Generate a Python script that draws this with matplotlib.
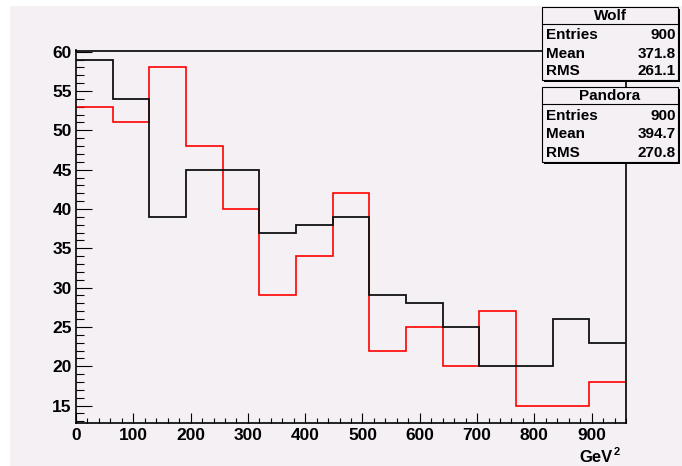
#!/usr/bin/env python3
"""
Wolf vs Pandora invariant-mass^2 distributions, ROOT-style overlay with stat boxes
"""
import numpy as np
import matplotlib
matplotlib.use('Agg')
import matplotlib.pyplot as plt
from matplotlib.patches import Rectangle
from matplotlib.ticker import MultipleLocator

# 15 bins of 64 GeV^2 from 0 to 960
bin_edges = np.arange(0, 961, 64)
wolf_counts = [59, 54, 39, 45, 45, 37, 38, 39, 29, 28, 25, 20, 20, 26, 23]
pandora_counts = [53, 51, 58, 48, 40, 29, 34, 42, 22, 25, 20, 27, 15, 15, 18]

wolf_stats = [('Entries', '900'), ('Mean', '371.8'), ('RMS', '261.1')]
pandora_stats = [('Entries', '900'), ('Mean', '394.7'), ('RMS', '270.8')]

W, H = 682, 466
BG = '#f4f0f4'
FONT = 'Liberation Sans'

fig = plt.figure(figsize=(W/100, H/100), dpi=100, facecolor='white')

def fx(x): return x / W
def fy(y): return 1 - y / H

# canvas fill (white strip on the left and top)
fig.patches.append(Rectangle((fx(10), 0), 1 - fx(10), fy(6), transform=fig.transFigure,
                             facecolor=BG, edgecolor='none', zorder=-5))

ax = fig.add_axes([fx(76), fy(422.5), fx(626) - fx(76), fy(50.5) - fy(422.5)], zorder=1)
ax.set_facecolor(BG)

ax.stairs(pandora_counts, bin_edges, color='#ff0000', lw=1.2, baseline=None, zorder=2)
ax.stairs(wolf_counts, bin_edges, color='#111111', lw=1.3, baseline=None, zorder=3)

ax.set_xlim(0, 960)
ax.set_ylim(12.85, 60.15)

ax.xaxis.set_major_locator(MultipleLocator(100))
ax.xaxis.set_minor_locator(MultipleLocator(20))
ax.yaxis.set_major_locator(MultipleLocator(5))
ax.yaxis.set_minor_locator(MultipleLocator(1))
ax.tick_params(axis='x', which='major', direction='in', length=7.2, width=0.8, pad=4)
ax.tick_params(axis='x', which='minor', direction='in', length=3.6, width=0.8)
ax.tick_params(axis='y', which='major', direction='in', length=11.5, width=0.8, pad=3)
ax.tick_params(axis='y', which='minor', direction='in', length=5.8, width=0.8)
ax.set_yticks([15, 20, 25, 30, 35, 40, 45, 50, 55, 60])
for lab in ax.get_xticklabels() + ax.get_yticklabels():
    lab.set_fontfamily(FONT); lab.set_fontweight('bold'); lab.set_fontsize(12.5)
for sp in ax.spines.values():
    sp.set_linewidth(1.2); sp.set_color('black')

# axis title with a raised exponent
fig.text(fx(613), fy(458), 'GeV', ha='right', va='center',
         fontsize=12, fontweight='bold', family=FONT)
fig.text(fx(614), fy(452), '2', ha='left', va='center',
         fontsize=8, fontweight='bold', family=FONT)

def stat_box(top, sep, bottom, title, rows, row_ys):
    left, right = 542, 678
    # shadow
    fig.patches.append(Rectangle((fx(left + 2), fy(bottom + 2)), fx(right - left), fy(top) - fy(bottom),
                                 transform=fig.transFigure, facecolor='black', edgecolor='none', zorder=5))
    fig.patches.append(Rectangle((fx(left), fy(bottom)), fx(right - left), fy(top) - fy(bottom),
                                 transform=fig.transFigure, facecolor=BG, edgecolor='black', lw=0.8, zorder=6))
    fig.lines.append(plt.Line2D([fx(left), fx(right)], [fy(sep), fy(sep)], transform=fig.transFigure,
                                color='black', lw=0.8, zorder=7))
    fig.text(fx((left + right) / 2), fy((top + sep) / 2 + 0.5), title, ha='center', va='center',
             fontsize=11, fontweight='bold', family=FONT, zorder=8)
    for (name, val), y in zip(rows, row_ys):
        fig.text(fx(546), fy(y), name, ha='left', va='center',
                 fontsize=11, fontweight='bold', family=FONT, zorder=8)
        fig.text(fx(676), fy(y), val, ha='right', va='center',
                 fontsize=11, fontweight='bold', family=FONT, zorder=8)

stat_box(7, 24, 80, 'Wolf', wolf_stats, [35, 53.5, 71.5])
stat_box(87, 104, 162, 'Pandora', pandora_stats, [116, 134.5, 153])

fig.savefig('out.png', dpi=100, facecolor='white')
